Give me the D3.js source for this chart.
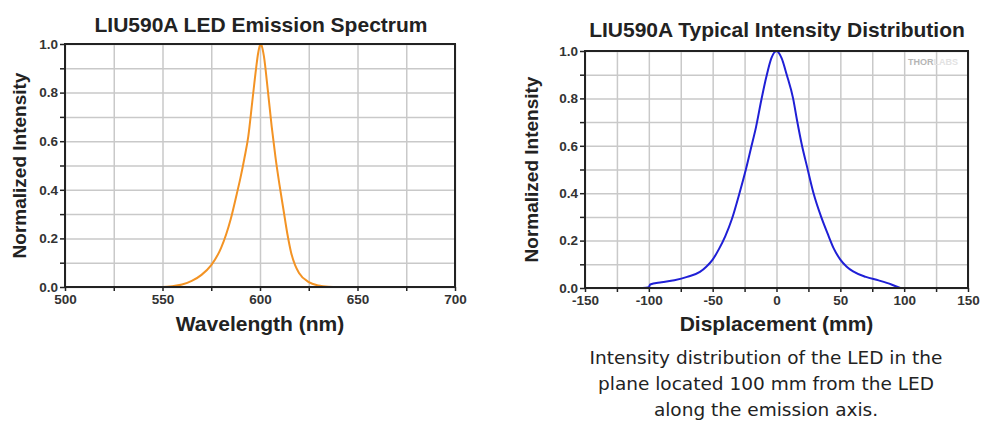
<!doctype html>
<html>
<head>
<meta charset="utf-8">
<script src="https://cdnjs.cloudflare.com/ajax/libs/d3/7.8.5/d3.min.js"></script>
<style>
  body { margin:0; background:#fff; }
  text { font-family: "Liberation Sans", Arial, sans-serif; }
  .grid line { stroke:#c9c9c9; stroke-width:1.5; }
  .grid path { display:none; }
  .axis path { display:none; }
  .axis line { stroke:#222; stroke-width:1.5; }
  .axis text { font-size:13.5px; font-weight:bold; fill:#333; }
  .title { font-size:21px; font-weight:bold; fill:#222; }
  .xlabel { font-size:21px; font-weight:bold; fill:#222; }
  .ylabel { font-size:19px; font-weight:bold; fill:#222; }
  .caption { font-family:"DejaVu Sans", sans-serif; font-size:18.5px; fill:#222; }
</style>
</head>
<body>
<svg id="chart" width="981" height="423"></svg>
<script>
// emission spectrum (nm, normalized)
var wavelength = [500,520,540,550,555,560,565,570,575,580,585,588,590,592,594,596,598,599,600,600.5,601,602,604,606,608,610,612,614,616,618,620,625,630,635,640,660,680,700];
var emission   = [0,0,0,0,0.003,0.01,0.025,0.05,0.09,0.16,0.28,0.38,0.45,0.53,0.62,0.76,0.90,0.96,0.995,1.0,0.99,0.95,0.81,0.66,0.53,0.42,0.32,0.22,0.14,0.09,0.058,0.02,0.006,0.001,0,0,0,0];

// intensity distribution (mm, normalized)
var displacement = [-105,-100,-99,-90,-80,-70,-60,-55,-50,-45,-40,-35,-29,-24,-20,-16,-12,-8,-4,0,4,8,13,16,20,24,29,35,40,45,50,55,60,70,80,90,97];
var intensity    = [0,0.003,0.015,0.024,0.033,0.047,0.068,0.09,0.12,0.165,0.22,0.29,0.40,0.50,0.59,0.68,0.79,0.89,0.97,1.0,0.97,0.90,0.80,0.71,0.60,0.51,0.40,0.30,0.23,0.165,0.12,0.09,0.07,0.047,0.032,0.015,0];

var leftXTicks = d3.range(500, 701, 25);
var rightXTicks = d3.range(-150, 151, 25);
var yTicks = d3.range(0, 11).map(function(i){ return i/10; });

var captionLines = ["Intensity distribution of the LED in the",
                    "plane located 100 mm from the LED",
                    "along the emission axis."];

var svg = d3.select("#chart");
svg.append("rect").attr("width",981).attr("height",423).attr("fill","#fff");

function panel(opt) {
  var x = d3.scaleLinear().domain(opt.xDomain).range([opt.x0, opt.x1]);
  var y = d3.scaleLinear().domain([0,1]).range([opt.y1, opt.y0]);
  var g = svg.append("g");

  // gridlines
  g.append("g").attr("class","grid")
    .attr("transform","translate(0,"+opt.y1+")")
    .call(d3.axisBottom(x).tickValues(opt.xTicks).tickSize(-(opt.y1-opt.y0)).tickFormat(""));
  g.append("g").attr("class","grid")
    .attr("transform","translate("+opt.x0+",0)")
    .call(d3.axisLeft(y).tickValues(yTicks).tickSize(-(opt.x1-opt.x0)).tickFormat(""));

  if (opt.watermark) {
    var wm = g.append("text").attr("x", opt.x1-60).attr("y", opt.y0+14)
      .style("font-size","9px").style("font-weight","bold");
    wm.append("tspan").attr("fill","#b5b5b5").text("THOR");
    wm.append("tspan").attr("fill","#e2e2e2").text("LABS");
  }

  // curve
  g.append("path")
    .datum(opt.xs.map(function(d,i){ return [d, opt.ys[i]]; }))
    .attr("fill","none").attr("stroke",opt.color).attr("stroke-width",2)
    .attr("stroke-linejoin","round")
    .attr("d", d3.line().x(function(d){return x(d[0]);}).y(function(d){return y(d[1]);}).curve(d3.curveMonotoneX));

  // frame
  g.append("rect").attr("x",opt.x0).attr("y",opt.y0)
    .attr("width",opt.x1-opt.x0).attr("height",opt.y1-opt.y0)
    .attr("fill","none").attr("stroke","#222").attr("stroke-width",2);

  // axes
  g.append("g").attr("class","axis")
    .attr("transform","translate(0,"+opt.y1+")")
    .call(d3.axisBottom(x).tickValues(opt.xTicks).tickSize(4).tickPadding(3)
      .tickFormat(function(d){ return d % 50 === 0 ? d : ""; }));
  g.append("g").attr("class","axis")
    .attr("transform","translate("+opt.x0+",0)")
    .call(d3.axisLeft(y).tickValues(yTicks).tickSize(5).tickPadding(2)
      .tickFormat(function(d,i){ return i % 2 === 0 ? d3.format(".1f")(d) : ""; }));

  svg.append("text").attr("class","title")
    .attr("x", opt.titleX).attr("y", opt.titleY).attr("text-anchor","middle").text(opt.title);
  svg.append("text").attr("class","xlabel")
    .attr("x",(opt.x0+opt.x1)/2).attr("y", 331).attr("text-anchor","middle").text(opt.xLabel);
  svg.append("text").attr("class","ylabel")
    .attr("transform","translate("+opt.yLabelX+","+((opt.y0+opt.y1)/2)+") rotate(-90)")
    .attr("text-anchor","middle").text("Normalized Intensity");
}

panel({x0:65, x1:455, y0:44, y1:287, xDomain:[500,700], xTicks:leftXTicks,
  xs:wavelength, ys:emission, color:"#f39324",
  title:"LIU590A LED Emission Spectrum", titleX:261, titleY:32,
  xLabel:"Wavelength (nm)", yLabelX:26});

panel({x0:585, x1:968, y0:51, y1:288, xDomain:[-150,150], xTicks:rightXTicks,
  xs:displacement, ys:intensity, color:"#1f1fd6", watermark:true,
  title:"LIU590A Typical Intensity Distribution", titleX:777, titleY:37,
  xLabel:"Displacement (mm)", yLabelX:538});

svg.selectAll("text.caption").data(captionLines).enter().append("text")
  .attr("class","caption")
  .attr("x", 766).attr("y", function(d,i){ return 364 + i*26; })
  .attr("text-anchor","middle").text(function(d){ return d; });
</script>
</body>
</html>
